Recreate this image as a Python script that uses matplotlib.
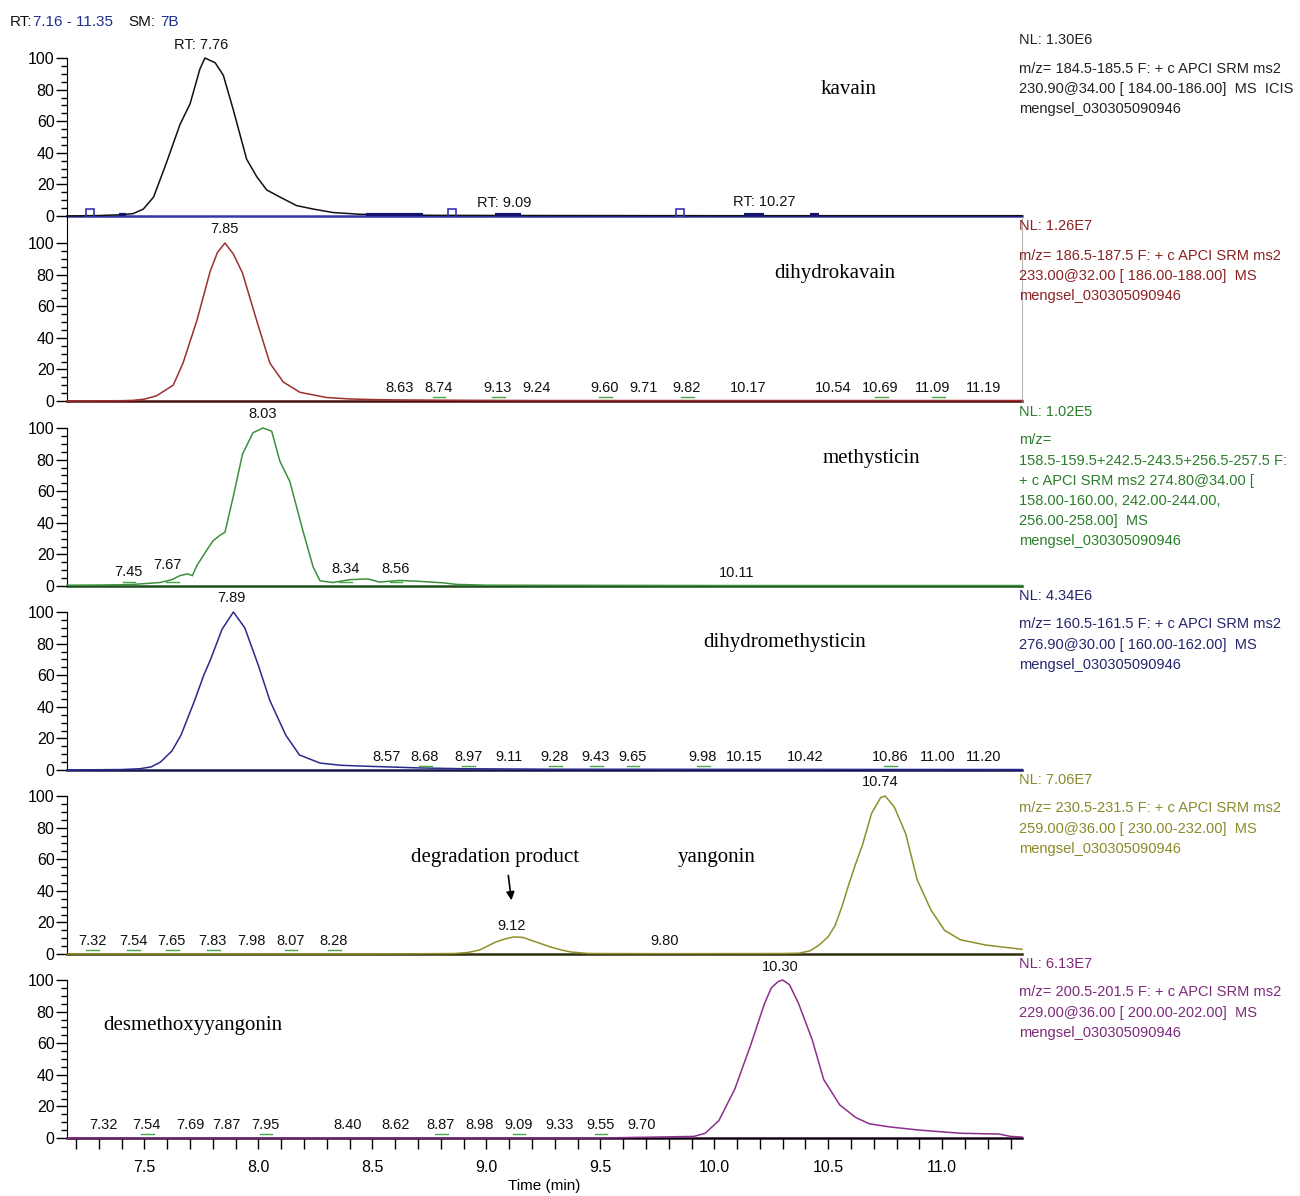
import matplotlib.pyplot as plt
import numpy as np

# Chromatograms of six kavalactones (SRM traces), stacked with a shared time axis

# ---- data ----
kav_t = [7.16, 7.30, 7.40, 7.45, 7.495, 7.54, 7.597, 7.656, 7.70, 7.743, 7.765, 7.81, 7.846,
         7.89, 7.948, 7.992, 8.036, 8.094, 8.167, 8.24, 8.327, 8.445, 8.60, 8.80, 9.20, 10.00,
         11.35]
kav_y = [0.0, 0.3, 0.8, 1.5, 4.4, 12, 34, 58, 71, 93, 100, 97, 89,
         67, 36, 25, 16.5, 12, 6.6, 4.4, 2.2, 1.1, 0.6, 0.4, 0.3, 0.2,
         0.2]

dhk_t = [7.16, 7.40, 7.45, 7.50, 7.553, 7.626, 7.669, 7.73, 7.788, 7.82, 7.853, 7.89, 7.93,
         7.992, 8.05, 8.109, 8.182, 8.299, 8.40, 8.50, 8.60, 8.80, 9.20, 11.35]
dhk_y = [0.0, 0.2, 0.4, 1.2, 3.3, 10, 24, 51, 82, 94, 100, 93, 81,
         51, 24, 12, 5.5, 2.2, 1.3, 0.9, 0.7, 0.5, 0.3, 0.3]

meth_t = [7.16, 7.30, 7.40, 7.45, 7.50, 7.568, 7.62, 7.656, 7.69, 7.71, 7.73, 7.77, 7.80,
          7.83, 7.853, 7.89, 7.93, 7.976, 8.02, 8.058, 8.094, 8.138, 8.195, 8.24, 8.27, 8.327,
          8.40, 8.48, 8.53, 8.62, 8.70, 8.81, 8.87, 9.00, 10.00, 11.35]
meth_y = [0.5, 0.6, 0.8, 1, 1.5, 2.2, 4, 6.6, 7.7, 6.5, 13, 22, 28.5,
          32, 34, 57, 83.5, 97, 100, 98, 79, 66, 35, 12, 3.3, 2.2,
          4, 4.5, 2.5, 3.5, 3, 2, 1, 0.5, 0.3, 0.3]

dhm_t = [7.16, 7.40, 7.48, 7.53, 7.57, 7.62, 7.66, 7.72, 7.76, 7.79, 7.84, 7.89, 7.94, 7.97,
         8.00, 8.05, 8.12, 8.18, 8.27, 8.36, 8.45, 8.60, 8.71, 8.90, 9.30, 11.35]
dhm_y = [0.0, 0.3, 0.8, 2, 5, 12, 22, 44, 60, 70, 89, 100, 90, 78,
         66, 44, 22, 9.5, 4.4, 3, 2.5, 1.8, 1.3, 0.8, 0.5, 0.3]

yan_t = [7.16, 8.50, 8.86, 8.92, 8.97, 9.04, 9.08, 9.12, 9.16, 9.19, 9.23, 9.28, 9.33, 9.37,
         9.45, 9.80, 10.30, 10.37, 10.42, 10.46, 10.50, 10.53, 10.56, 10.59, 10.62, 10.65,
         10.69, 10.73, 10.75, 10.79, 10.84, 10.89, 10.95, 11.01, 11.08, 11.19, 11.30, 11.35]
yan_y = [0.0, 0.0, 0.3, 1, 2.5, 7.5, 9.5, 10.8, 10.5, 9, 7, 4.5, 2.5, 1.3,
         0.3, 0.2, 0.3, 0.5, 2, 5.7, 11, 18, 30, 44, 57, 69,
         89, 99, 100, 93, 76, 47, 28, 15, 9, 5.7, 3.8, 3]

dmy_t = [7.16, 9.50, 9.91, 9.96, 10.02, 10.09, 10.16, 10.22, 10.25, 10.28, 10.30, 10.33,
         10.37, 10.43, 10.48, 10.55, 10.62, 10.68, 10.77, 10.90, 11.08, 11.25, 11.30, 11.35]
dmy_y = [0.0, 0.0, 1, 3, 11, 31, 59, 85, 95, 99, 100, 97,
         85, 62, 37, 21, 13, 9, 7, 5, 3, 2.5, 1, 0.6]

# peak-label texts and where they are drawn (time, relative abundance)
kav_lbl = ['RT: 7.76', 'RT: 9.09', 'RT: 10.27']
kav_lbl_x = [7.75, 9.08, 10.22]
kav_lbl_y = [108, 8, 9]

dhk_lbl = ['7.85', '8.63', '8.74', '9.13', '9.24', '9.60', '9.71', '9.82', '10.17', '10.54',
           '10.69', '11.09', '11.19']
dhk_lbl_x = [7.85, 8.62, 8.79, 9.05, 9.22, 9.52, 9.69, 9.88, 10.15, 10.52, 10.73, 10.96, 11.18]
dhk_lbl_y = [109] + [8] * 12

meth_lbl = ['8.03', '7.45', '7.67', '8.34', '8.56', '10.11']
meth_lbl_x = [8.02, 7.43, 7.60, 8.38, 8.60, 10.10]
meth_lbl_y = [109, 9, 13, 11, 11, 8]

dhm_lbl = ['7.89', '8.57', '8.68', '8.97', '9.11', '9.28', '9.43', '9.65', '9.98', '10.15',
           '10.42', '10.86', '11.00', '11.20']
dhm_lbl_x = [7.88, 8.56, 8.73, 8.92, 9.10, 9.30, 9.48, 9.64, 9.95, 10.13, 10.40, 10.77,
             10.98, 11.18]
dhm_lbl_y = [109] + [8] * 13

yan_lbl = ['10.74', '9.12', '9.80', '7.32', '7.54', '7.65', '7.83', '7.98', '8.07', '8.28']
yan_lbl_x = [10.73, 9.11, 9.78, 7.27, 7.45, 7.62, 7.80, 7.97, 8.14, 8.33]
yan_lbl_y = [109, 18, 8, 8, 8, 8, 8, 8, 8, 8]

dmy_lbl = ['10.30', '7.32', '7.54', '7.69', '7.87', '7.95', '8.40', '8.62', '8.87', '8.98',
           '9.09', '9.33', '9.55', '9.70']
dmy_lbl_x = [10.29, 7.32, 7.51, 7.70, 7.86, 8.03, 8.39, 8.60, 8.80, 8.97, 9.14, 9.32, 9.50, 9.68]
dmy_lbl_y = [108] + [8] * 13

# small green peak marks under some labels
kav_mark_t = []
dhk_mark_t = [8.79, 9.05, 9.52, 9.88, 10.73, 10.98]
meth_mark_t = [7.43, 7.62, 8.38, 8.60]
dhm_mark_t = [8.73, 8.92, 9.30, 9.48, 9.64, 9.95, 10.77]
yan_mark_t = [7.27, 7.45, 7.62, 7.80, 8.14, 8.33]
dmy_mark_t = [7.51, 8.03, 8.80, 9.14, 9.50]

# integration boundary marks on the kavain baseline
kav_box_t = [7.26, 8.85, 9.85]
kav_seg_start = [7.39, 8.47, 9.04, 10.13, 10.42]
kav_seg_end = [7.42, 8.72, 9.15, 10.22, 10.46]

names = ['kavain', 'dihydrokavain', 'methysticin', 'dihydromethysticin', 'yangonin',
         'desmethoxyyangonin']
name_x = [10.59, 10.53, 10.69, 10.31, 10.01, 7.71]
name_y = [80, 81, 81, 81, 61, 71]

nl_values = ['1.30E6', '1.26E7', '1.02E5', '4.34E6', '7.06E7', '6.13E7']
scan_info = [
    'm/z= 184.5-185.5 F: + c APCI SRM ms2\n230.90@34.00 [ 184.00-186.00]  MS  ICIS\nmengsel_030305090946',
    'm/z= 186.5-187.5 F: + c APCI SRM ms2\n233.00@32.00 [ 186.00-188.00]  MS\nmengsel_030305090946',
    'm/z=\n158.5-159.5+242.5-243.5+256.5-257.5 F:\n+ c APCI SRM ms2 274.80@34.00 [\n'
    '158.00-160.00, 242.00-244.00,\n256.00-258.00]  MS\nmengsel_030305090946',
    'm/z= 160.5-161.5 F: + c APCI SRM ms2\n276.90@30.00 [ 160.00-162.00]  MS\nmengsel_030305090946',
    'm/z= 230.5-231.5 F: + c APCI SRM ms2\n259.00@36.00 [ 230.00-232.00]  MS\nmengsel_030305090946',
    'm/z= 200.5-201.5 F: + c APCI SRM ms2\n229.00@36.00 [ 200.00-202.00]  MS\nmengsel_030305090946',
]

trace_colors = ['#111111', '#9c2f2f', '#3d8f3d', '#2a2a8c', '#8f8f2a', '#8c2f8c']
base_colors = ['#3535b0', '#4a0d0d', '#1d4d1d', '#14144d', '#2e2e10', '#300a30']
text_colors = ['#222222', '#8a2222', '#2a7d2a', '#25256e', '#8a8a2a', '#7d2a7d']

SANS = ['Liberation Sans', 'DejaVu Sans']
SERIF = ['Liberation Serif', 'DejaVu Serif']
plt.rcParams['font.family'] = SANS
plt.rcParams['font.size'] = 11

W, H = 1300, 1196
fig = plt.figure(figsize=(W / 100, H / 100), dpi=100)

# pixel layout of the stacked panels
ax_left, ax_right = 67, 1022
baselines = [216, 401, 586, 770, 954, 1138]
panel_h = 184.5
px_per_100 = 158.0
ytop = panel_h / px_per_100 * 100

traces = [(kav_t, kav_y), (dhk_t, dhk_y), (meth_t, meth_y), (dhm_t, dhm_y), (yan_t, yan_y),
          (dmy_t, dmy_y)]
labels = [(kav_lbl, kav_lbl_x, kav_lbl_y), (dhk_lbl, dhk_lbl_x, dhk_lbl_y),
          (meth_lbl, meth_lbl_x, meth_lbl_y), (dhm_lbl, dhm_lbl_x, dhm_lbl_y),
          (yan_lbl, yan_lbl_x, yan_lbl_y), (dmy_lbl, dmy_lbl_x, dmy_lbl_y)]
marks = [kav_mark_t, dhk_mark_t, meth_mark_t, dhm_mark_t, yan_mark_t, dmy_mark_t]

axes = []
for i in range(6):
    rect = [ax_left / W, 1 - baselines[i] / H, (ax_right - ax_left) / W, panel_h / H]
    ax = fig.add_axes(rect)
    ax.patch.set_alpha(0)
    axes.append(ax)
    t, y = traces[i]
    ax.set_xlim(7.16, 11.35)
    ax.set_ylim(0, ytop)

    # baseline and trace
    ax.plot([7.16, 11.35], [0, 0], color=base_colors[i], lw=1.8, clip_on=False, zorder=2)
    ax.plot(t, y, color=trace_colors[i], lw=1.1, clip_on=False, zorder=3)

    # peak labels
    txt, lx, ly = labels[i]
    for s, xx, yy in zip(txt, lx, ly):
        ax.text(xx, yy, s, ha='center', va='center', fontsize=10.5, color='#111111',
                clip_on=False)
    for m in marks[i]:
        ax.plot([m - 0.025, m + 0.03], [2.6, 2.6], color='#45a845', lw=1, zorder=4)

    # compound name
    ax.text(name_x[i], name_y[i], names[i], ha='center', va='center', fontsize=15,
            family=SERIF, color='black')

    # NL and scan information to the right
    nl_off = 8.5 if i == 0 else 10
    ax.text(0.997, 1 - nl_off / panel_h, 'NL: ' + nl_values[i], transform=ax.transAxes,
            ha='left', va='center', fontsize=10.5, color=text_colors[i], clip_on=False)
    ax.text(0.997, 1 - (nl_off + 22) / panel_h, scan_info[i], transform=ax.transAxes,
            ha='left', va='top', fontsize=10.5, color=text_colors[i], linespacing=1.55,
            clip_on=False)

    # y axis
    ax.set_yticks([0, 20, 40, 60, 80, 100])
    ax.set_yticks(np.arange(0, 101, 5), minor=True)
    ax.tick_params(axis='y', which='major', direction='out', length=8, width=1, labelsize=11.5,
                   pad=1)
    ax.tick_params(axis='y', which='minor', direction='out', length=4, width=1)
    ax.spines['left'].set_bounds(0, 100)
    ax.spines['top'].set_visible(False)
    ax.spines['right'].set_visible(False)
    ax.spines['bottom'].set_visible(False)
    if i < 5:
        ax.tick_params(axis='x', which='both', bottom=False, labelbottom=False)

# gray frame around the dihydrokavain panel
axes[1].spines['right'].set_visible(True)
axes[1].spines['right'].set_color('#b5b5b5')
axes[1].spines['left'].set_bounds(0, ytop)

# kavain integration marks
axes[0].plot(kav_box_t, [2.2] * len(kav_box_t), ls='none', marker='s', ms=6, mfc='none',
             mec='#3535b0', mew=1.2, zorder=4)
for a, b in zip(kav_seg_start, kav_seg_end):
    axes[0].plot([a, b], [0.6, 0.6], color='#14146e', lw=3, solid_capstyle='butt', zorder=4)

# arrow to the degradation product
axes[4].annotate('degradation product', xy=(9.11, 34), xytext=(9.04, 61), ha='center',
                 va='center', fontsize=15, family=SERIF, color='black',
                 arrowprops=dict(arrowstyle='-|>', color='black', lw=1.2,
                                 shrinkA=4, shrinkB=0, mutation_scale=12,
                                 relpos=(0.57, 0.0)))

# bottom time axis
axb = axes[5]
axb.spines['bottom'].set_visible(True)
axb.spines['bottom'].set_color('black')
axb.set_xticks([7.5, 8.0, 8.5, 9.0, 9.5, 10.0, 10.5, 11.0])
axb.set_xticklabels(['7.5', '8.0', '8.5', '9.0', '9.5', '10.0', '10.5', '11.0'])
axb.set_xticks(np.arange(7.2, 11.35, 0.1), minor=True)
axb.tick_params(axis='x', which='both', direction='out', length=8, width=1, labelsize=11.5,
                pad=8)
axb.set_xlabel('Time (min)', fontsize=11, labelpad=3)

# header
fig.text(10 / W, 1 - 22 / H, 'RT:', fontsize=11, va='center', ha='left', color='#111111')
fig.text(33 / W, 1 - 22 / H, '7.16 - 11.35', fontsize=11, va='center', ha='left', color='#1f2f8f')
fig.text(128 / W, 1 - 22 / H, 'SM:', fontsize=11, va='center', ha='left', color='#111111')
fig.text(160 / W, 1 - 22 / H, '7B', fontsize=11, va='center', ha='left', color='#1f2f8f')

fig.savefig('out.png', dpi=100)
